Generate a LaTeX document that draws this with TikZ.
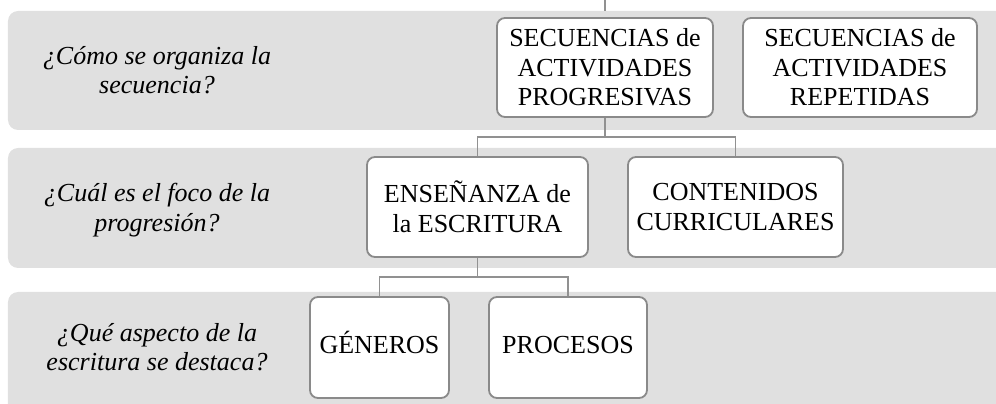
\documentclass[tikz,border=0pt]{standalone}
\usepackage{fontspec}
\setmainfont{Liberation Serif}
\usepackage{xcolor}
\definecolor{bandgray}{RGB}{224,224,224}
\definecolor{boxgray}{RGB}{138,138,138}
\definecolor{linkgray}{RGB}{145,145,145}
\newcommand{\boxfont}{\fontsize{18.5}{21}\selectfont}
\begin{document}
\begin{tikzpicture}[thick]
\tikzstyle{band}=[fill=bandgray,rounded corners=.25cm]
\tikzstyle{box}=[rectangle,draw=boxgray,line width=1.3pt,fill=white,rounded corners=.2cm,inner sep=0pt,align=center,font=\boxfont]
\tikzstyle{one}=[text height=2ex,text depth=0pt]
\tikzstyle{ask}=[align=center,font=\boxfont\itshape]
\tikzstyle{link}=[draw=linkgray,line width=1pt]
\useasboundingbox(0,0)rectangle(24.9,10.1);
\clip(0,0)rectangle(24.9,10.1);
\fill[band](.2,6.85)rectangle(25.3,9.825);
\fill[band](.2,3.4)rectangle(25.3,6.4);
\fill[band](.2,-.3)rectangle(25.3,2.8);
\node(q-org)at(3.925,8.35)[ask]{¿Cómo se organiza la\\secuencia?};
\node(q-foco)at(3.925,4.85)[ask]{¿Cuál es el foco de la\\progresión?};
\node(q-asp)at(3.925,1.425)[ask]{¿Qué aspecto de la\\escritura se destaca?};
\node(sec-prog)at(15.125,8.4125)[box,minimum width=5.4cm,minimum height=2.475cm]{SECUENCIAS de\\ACTIVIDADES\\PROGRESIVAS};
\node(sec-rep)at(21.5,8.4125)[box,minimum width=5.85cm,minimum height=2.475cm]{SECUENCIAS de\\ACTIVIDADES\\REPETIDAS};
\node(ens)at(11.9375,4.925)[box,minimum width=5.525cm,minimum height=2.5cm]{ENSEÑANZA de\\la ESCRITURA};
\node(cont)at(18.3875,4.925)[box,minimum width=5.375cm,minimum height=2.5cm]{CONTENIDOS\\CURRICULARES};
\node(gen)at(9.4875,1.4125)[box,one,minimum width=3.475cm,minimum height=2.525cm]{GÉNEROS};
\node(proc)at(14.2,1.4125)[box,one,minimum width=3.95cm,minimum height=2.525cm]{PROCESOS};
\coordinate(top-in)at(15.125,10.1);
\coordinate(top-end)at(15.125,9.825);
\coordinate(split1)at(15.125,6.675);
\coordinate(split2)at(11.9375,3.175);
\draw[link](top-in)--(top-end);
\draw[link](sec-prog)--(split1);
\draw[link](split1)-|(ens);
\draw[link](split1)-|(cont);
\draw[link](ens)--(split2);
\draw[link](split2)-|(gen);
\draw[link](split2)-|(proc);
\end{tikzpicture}
\end{document}
